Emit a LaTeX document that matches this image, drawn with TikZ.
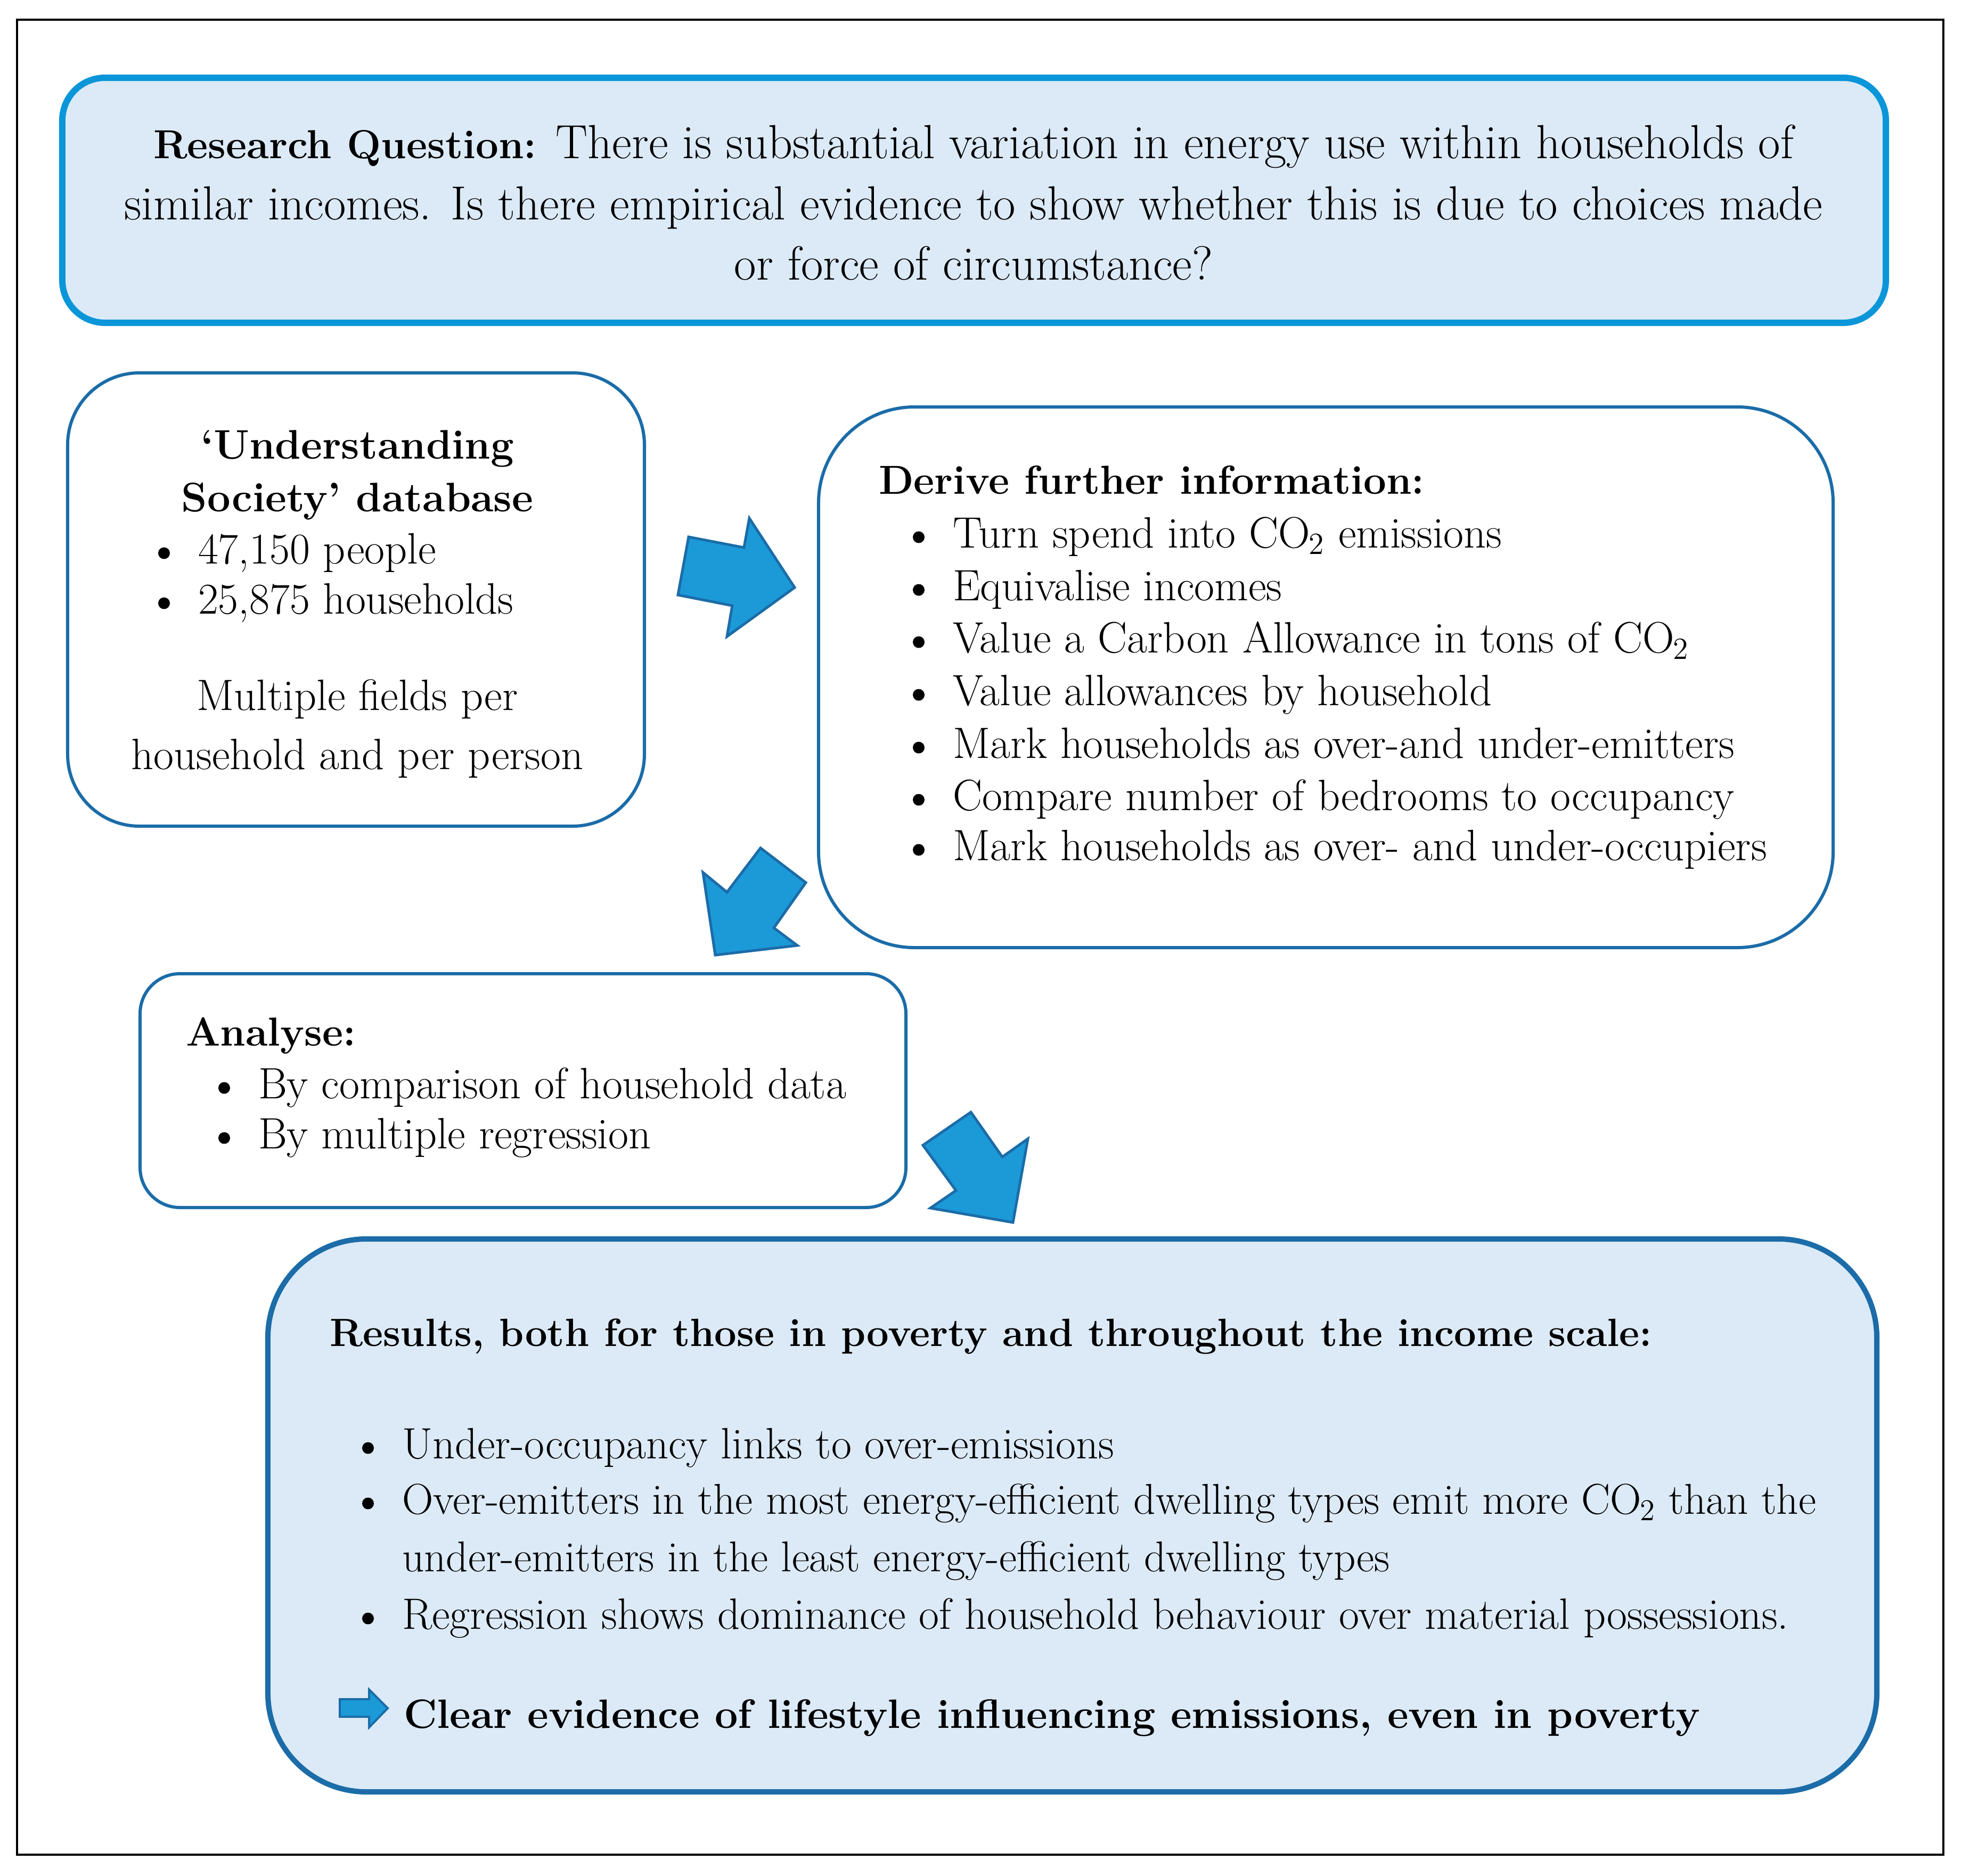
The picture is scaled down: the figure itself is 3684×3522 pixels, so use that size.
\documentclass[tikz,border=0pt]{standalone}
\usepackage{fontspec}
\definecolor{rqfill}{HTML}{DCEAF7}
\definecolor{rqline}{HTML}{0A96D8}
\definecolor{dkline}{HTML}{1B6CA8}
\definecolor{arrfill}{HTML}{1C9AD8}
\newcommand\mainsize{\fontsize{16.5}{18}\selectfont}
\newcommand\rqsize{\fontsize{18}{20}\selectfont}
\newcommand\cotwo{CO\textsubscript{\kern-0.5pt 2}}
\tikzset{
  box/.style={draw=dkline, line width=1.2pt, fill=white, inner sep=0pt},
  txt/.style={anchor=base west, inner sep=0pt, font=\mainsize},
  ctxt/.style={anchor=base, inner sep=0pt, font=\mainsize},
  btxt/.style={anchor=base west, inner sep=0pt, font=\fontsize{15.2}{17}\selectfont\bfseries},
  bctxt/.style={anchor=base, inner sep=0pt, font=\fontsize{15.5}{17}\selectfont\bfseries},
  rqtxt/.style={anchor=base, inner sep=0pt, font=\rqsize},
  blockarrow/.style={fill=arrfill, draw=dkline, line width=1pt, line join=miter},
}
\begin{document}
\begin{tikzpicture}[x=0.2pt,y=-0.2pt]
\useasboundingbox (0,0) rectangle (3684,3522);
\draw[black, line width=0.8pt] (32,37) rectangle (3649,3482);

% boxes
\node[box, draw=rqline, fill=rqfill, line width=2.4pt, rounded corners=16pt,
      minimum width=684.8pt, minimum height=92pt] (rq) at (1829,376) {};
\node[box, rounded corners=27pt, minimum width=216.6pt, minimum height=170.2pt] (us) at (668.5,1125.5) {};
\node[box, rounded corners=36pt, minimum width=381pt, minimum height=203pt] (dv) at (2489.5,1271.5) {};
\node[box, rounded corners=15pt, minimum width=287.6pt, minimum height=87.8pt] (an) at (982,2047.5) {};
\node[box, fill=rqfill, line width=2pt, rounded corners=37pt, minimum width=604.2pt, minimum height=207.6pt] (rs) at (2013.5,2845) {};

% research question
\node[rqtxt] (rq1) at (1828,297) {{\fontsize{15.2}{18}\selectfont\bfseries Research Question:} There is substantial variation in energy use within households of};
\node[rqtxt] (rq2) at (1828,412) {similar incomes. Is there empirical evidence to show whether this is due to choices made};
\node[rqtxt] (rq3) at (1828,525) {or force of circumstance?};

% understanding society
\node[bctxt] (us1) at (671,861) {‘Understanding};
\node[bctxt] (us2) at (671,960) {Society’ database};
\node[txt] (us3) at (371,1058) {47,150 people};
\node[txt] (us4) at (371,1152) {25,875 households};
\node[ctxt] (us5) at (671,1333) {Multiple fields per};
\node[ctxt] (us6) at (671,1444) {household and per person};

% derive
\node[btxt] (dv0) at (1649,927) {Derive further information:};
\node[txt] (dv1) at (1788,1028) {Turn spend into \cotwo{} emissions};
\node[txt] (dv2) at (1788,1127) {Equivalise incomes};
\node[txt] (dv3) at (1788,1225) {Value a Carbon Allowance in tons of \cotwo};
\node[txt] (dv4) at (1788,1324) {Value allowances by household};
\node[txt] (dv5) at (1788,1423) {Mark households as over-and under-emitters};
\node[txt] (dv6) at (1788,1521) {Compare number of bedrooms to occupancy};
\node[txt] (dv7) at (1788,1615) {Mark households as over- and under-occupiers};

% analyse
\node[btxt] (an0) at (348,1963) {Analyse:};
\node[txt] (an1) at (484,2062) {By comparison of household data};
\node[txt] (an2) at (484,2156) {By multiple regression};

% results
\node[btxt, font=\fontsize{14.8}{17}\selectfont\bfseries] (rs0) at (618,2527) {Results, both for those in poverty and throughout the income scale:};
\node[txt] (rs1) at (754,2738) {Under-occupancy links to over-emissions};
\node[txt, font=\fontsize{16.2}{18}\selectfont] (rs2) at (754,2842) {Over-emitters in the most energy-efficient dwelling types emit more \cotwo{} than the};
\node[txt, font=\fontsize{16.2}{18}\selectfont] (rs3) at (754,2950) {under-emitters in the least energy-efficient dwelling types};
\node[txt] (rs4) at (754,3058) {Regression shows dominance of household behaviour over material possessions.};
\node[btxt, font=\fontsize{15.4}{17}\selectfont\bfseries] (rs5) at (757,3244) {Clear evidence of lifestyle influencing emissions, even in poverty};
\draw[blockarrow, line width=0.8pt] (638,3190) -- (693,3190) -- (693,3172) -- (728,3207) -- (693,3243) -- (693,3223) -- (638,3223) -- cycle;

% bullets
\foreach \n in {us3,us4,dv1,dv2,dv3,dv4,dv5,dv6,dv7,an1,an2,rs1,rs2,rs4}
  \fill[black] ([xshift=-12.6pt, yshift=3.9pt]\n.base west) circle[radius=2.2pt];

% block arrows
\draw[blockarrow] (1293,1008) -- (1397,1028) -- (1407,973) -- (1492,1103) -- (1365,1195) -- (1375,1137) -- (1273,1117) -- cycle;
\draw[blockarrow] (1428,1592) -- (1513,1657) -- (1453,1742) -- (1497,1775) -- (1343,1793) -- (1320,1638) -- (1365,1675) -- cycle;
\draw[blockarrow] (1733,2150) -- (1823,2088) -- (1882,2172) -- (1930,2138) -- (1902,2295) -- (1747,2268) -- (1795,2235) -- cycle;
\end{tikzpicture}
\end{document}
